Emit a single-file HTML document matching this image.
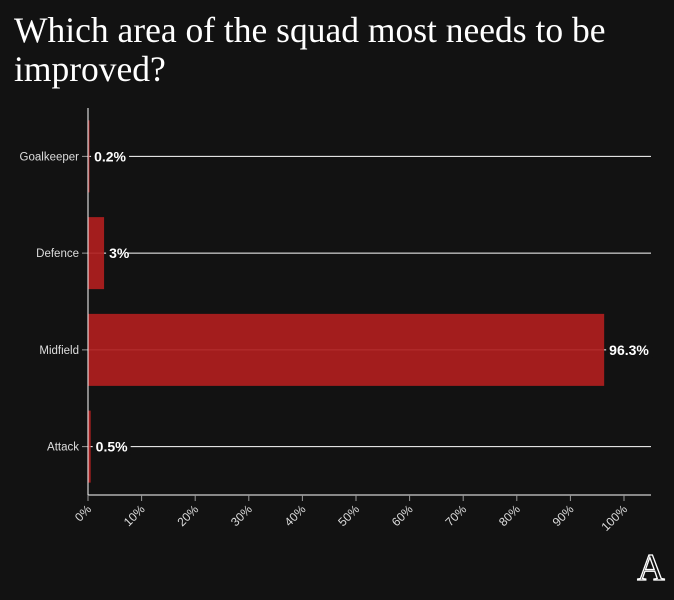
<!DOCTYPE html>
<html><head><meta charset="utf-8"><style>
body{margin:0;background:#121212;width:674px;height:600px;overflow:hidden;}
h1{position:absolute;left:14px;top:11px;margin:0;width:660px;font-family:"Liberation Serif",serif;font-weight:normal;font-size:35.5px;line-height:39px;color:#fff;}
svg{position:absolute;left:0;top:0;}
</style></head><body>
<h1>Which area of the squad most needs to be improved?</h1>
<svg width="674" height="600">
<g id="g"></g>
<g><text x="651" y="580" text-anchor="middle" font-family="Liberation Serif,serif" font-size="38" fill="none" stroke="#fff" stroke-width="1.3">A</text></g>
</svg>
<script>
const categories=["Goalkeeper","Defence","Midfield","Attack"];
const values=[0.2,3,96.3,0.5];
const valueLabels=["0.2%","3%","96.3%","0.5%"];
const ticks=[0,10,20,30,40,50,60,70,80,90,100];
const NS="http://www.w3.org/2000/svg";
const g=document.getElementById('g');
const x0=88,x100=624,axisY=495,top0=108,right=651;
const xs=v=>x0+(x100-x0)*v/100;
const band=(axisY-top0)/categories.length;
const yc=i=>top0+band*(i+0.5);
const bh=72;
function mk(t,a){const e=document.createElementNS(NS,t);for(const k in a)e.setAttribute(k,a[k]);g.appendChild(e);return e;}
categories.forEach((c,i)=>{
 const y=yc(i),xv=xs(values[i]);
 const gl=mk('line',{x1:x0,x2:right,y1:y,y2:y,stroke:'#fff','stroke-width':1});
 
 
 const b=mk('rect',{x:x0,y:y-bh/2,width:Math.max(xv-x0,1.5),height:bh,fill:'#b01e1e','fill-opacity':0.92});
 
 
 const tk=mk('line',{x1:x0-6,x2:x0,y1:y,y2:y,stroke:'#999'});
 
 
 const l=mk('text',{x:x0-9,y:y+4,'text-anchor':'end','font-family':'Liberation Sans,sans-serif','font-size':11.5,fill:'#ddd'});
 l.textContent=c;
 
 
 const lw=valueLabels[i].length*8.5+4;
 mk('rect',{x:xv+2,y:y-8,width:lw,height:16,fill:'#121212'});
 const v=mk('text',{x:xv+5,y:y+5,'font-family':'Liberation Sans,sans-serif','font-size':14,'font-weight':'bold',fill:'#fff'});
 v.textContent=valueLabels[i];
 
 
});
const ya=mk('line',{x1:x0,x2:x0,y1:top0,y2:axisY,stroke:'#fff'});


const xa=mk('line',{x1:x0,x2:right,y1:axisY,y2:axisY,stroke:'#fff'});


ticks.forEach(t=>{
 const x=xs(t);
 const tk=mk('line',{x1:x,x2:x,y1:axisY,y2:axisY+6,stroke:'#999'});
 
 
 const l=mk('text',{x:x+4,y:axisY+15,'text-anchor':'end','font-family':'Liberation Sans,sans-serif','font-size':12,fill:'#ddd',transform:`rotate(-45 ${x+4} ${axisY+15})`});
 l.textContent=t+'%';
 
 
});
</script>
</body></html>
